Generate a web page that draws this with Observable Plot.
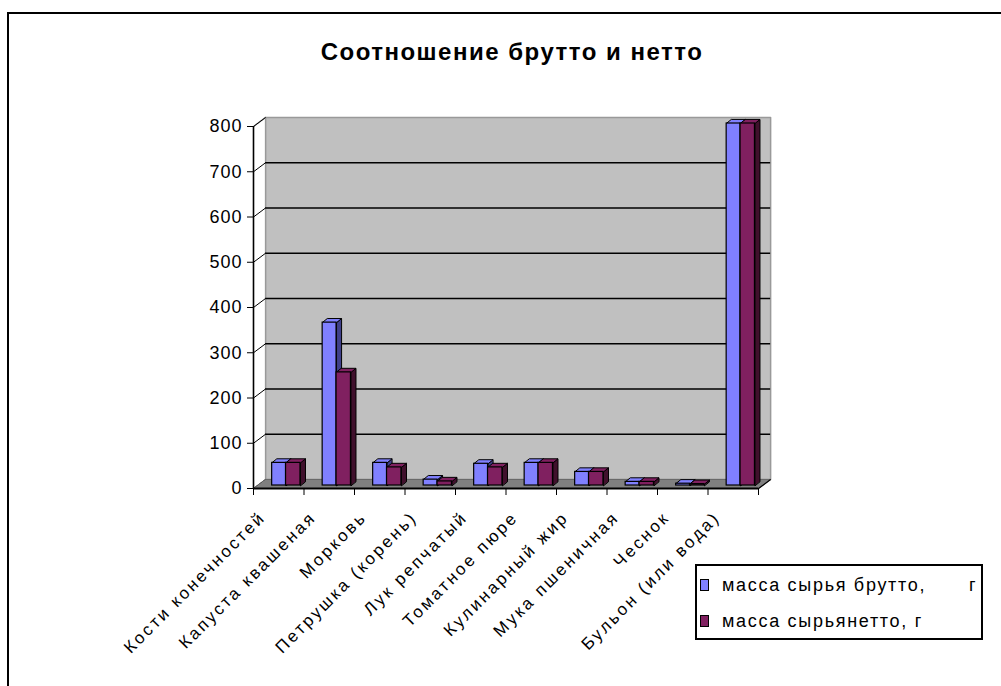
<!DOCTYPE html>
<html><head><meta charset="utf-8">
<script src="https://cdn.jsdelivr.net/npm/d3@7"></script>
<script src="https://cdn.jsdelivr.net/npm/@observablehq/plot@0.6"></script>
<style>
html,body{margin:0;padding:0;background:#fff;}
#wrap{position:relative;width:1001px;height:686px;overflow:hidden;font-family:"Liberation Sans",Arial,sans-serif;}
#frame{position:absolute;left:7px;top:12px;width:1100px;height:800px;border-left:2px solid #000;border-top:2px solid #000;}
#title{position:absolute;left:0;width:1024px;top:38px;text-align:center;font-weight:bold;font-size:24px;letter-spacing:1.5px;color:#000;}
#legend{position:absolute;left:695px;top:564px;width:284px;height:72px;border:2px solid #000;background:#fff;font-size:18px;}
.item{position:absolute;left:3px;height:22px;line-height:22px;white-space:nowrap;letter-spacing:1.7px;}
.sw{display:inline-block;width:7px;height:10px;border:1px solid #000;margin-right:13px;vertical-align:0px;}
#chart{position:absolute;left:0;top:0;}
#chart svg text{letter-spacing:1px;}
#chart svg g.xl text{letter-spacing:2.6px;}
</style></head>
<body><div id="wrap"><div id="frame"></div><div id="title">Соотношение брутто и нетто</div><div id="chart"></div><div id="legend"></div></div>
<script>
const categories = ["Кости конечностей","Капуста квашеная","Морковь","Петрушка (корень)","Лук репчатый","Томатное пюре","Кулинарный жир","Мука пшеничная","Чеснок","Бульон (или вода)"];
const brutto = [50, 360, 50, 13, 48, 50, 30, 8, 4, 800];
const netto  = [50, 250, 40, 9, 40, 50, 30, 8, 3, 800];
const seriesNames = ["масса сырья брутто,", "масса сырьянетто, г"];
const yTicks = [0,100,200,300,400,500,600,700,800];

const colors = {front:["#8080ff","#802060"], side:["#40408a","#40102c"]};
const DX = 0.24, DY = 20;       // depth of the box (data units)
const BDX = 0.1, BDY = 9;       // depth of each bar
const slots = [[0.31,0.585],[0.585,0.87]];
const n = categories.length;

function faces(vals, s){
  const side=[], top=[], front=[];
  vals.forEach((v,i)=>{
    const x1=i+slots[s][0], x2=i+slots[s][1];
    front.push({x1,x2,y1:0,y2:v});
    [[x2,0],[x2,v],[x2+BDX,v+BDY],[x2+BDX,BDY]].forEach(p=>side.push({x:p[0],y:p[1],z:i}));
    [[x1,v],[x2,v],[x2+BDX,v+BDY],[x1+BDX,v+BDY]].forEach(p=>top.push({x:p[0],y:p[1],z:i}));
  });
  return {side,top,front};
}
const fb = faces(brutto,0), fn = faces(netto,1);
const wall = [[DX,DY],[n+DX,DY],[n+DX,800+DY],[DX,800+DY]].map(p=>({x:p[0],y:p[1]}));
const floor = [[0,0],[n,0],[n+DX,DY],[DX,DY]].map(p=>({x:p[0],y:p[1]}));
const bdx = 3, bdy = -3;

function barMarks(f,s){
  return [
    Plot.line(f.side,{x:"x",y:"y",z:"z",curve:"linear-closed",fill:colors.side[s],stroke:"#000",strokeWidth:1,dx:bdx,dy:bdy}),
    Plot.line(f.top,{x:"x",y:"y",z:"z",curve:"linear-closed",fill:colors.front[s],stroke:"#000",strokeWidth:1,dx:bdx,dy:bdy}),
    Plot.rect(f.front,{x1:"x1",x2:"x2",y1:"y1",y2:"y2",fill:colors.front[s],stroke:"#000",strokeWidth:1.2,dx:bdx,dy:bdy})
  ];
}

const plot = Plot.plot({
  width:1001, height:686,
  marginLeft:253, marginRight:243, marginTop:126, marginBottom:198,
  x:{type:"linear", domain:[0,n], axis:null},
  y:{domain:[0,800], axis:null},
  style:{fontFamily:"'Liberation Sans', Arial, sans-serif", background:"transparent", overflow:"visible"},
  marks:[
    Plot.line(wall,{x:"x",y:"y",curve:"linear-closed",fill:"#c0c0c0",stroke:"#999",strokeWidth:1.5}),
    Plot.line([{x:0,y:800},{x:DX,y:800+DY}],{x:"x",y:"y",stroke:"#999",strokeWidth:1.5}),
    Plot.ruleY(yTicks.filter(v=>v>0&&v<800),{y:d=>d+DY,x1:DX,x2:n+DX,stroke:"#000",strokeWidth:1.6}),
    Plot.link(yTicks,{x1:0,x2:DX,y1:d=>d,y2:d=>d+DY,stroke:"#000",strokeWidth:1}),
    Plot.line(floor,{x:"x",y:"y",curve:"linear-closed",fill:"#808080",stroke:"#666",strokeWidth:1}),
    ...barMarks(fb,0),
    ...barMarks(fn,1),
    Plot.ruleX([0],{y1:0,y2:800,stroke:"#000",strokeWidth:1.6}),
    Plot.ruleY([0],{x1:0,x2:n,stroke:"#000",strokeWidth:2}),
    Plot.link([0],{x1:n,x2:n+DX,y1:0,y2:DY,stroke:"#000",strokeWidth:1.2}),
    Plot.axisY({ticks:yTicks,tickSize:6,tickPadding:5,fontSize:18,tickFormat:d=>String(d),anchor:"left"}),
    Plot.axisX({ticks:d3.range(0,n+1),tickSize:7,tickFormat:()=>"",anchor:"bottom"}),
    Plot.axisX({ticks:d3.range(n).map(i=>i+0.5),tickSize:0,tickPadding:26,tickRotate:-45,fontSize:17,
      tickFormat:d=>categories[Math.floor(d)],anchor:"bottom",dx:-16,className:"xl"})
  ]
});
document.getElementById("chart").appendChild(plot);

const leg = document.getElementById("legend");
seriesNames.forEach((nm,s)=>{
  const it = document.createElement("div");
  it.className="item"; it.style.top = (s===0?8:44)+"px";
  it.innerHTML = `<span class="sw" style="background:${colors.front[s]}"></span>${nm}`;
  leg.appendChild(it);
});
const g = document.createElement("div");
g.className="item"; g.style.left="272px"; g.style.top="8px"; g.textContent="г";
leg.appendChild(g);
</script></body></html>
